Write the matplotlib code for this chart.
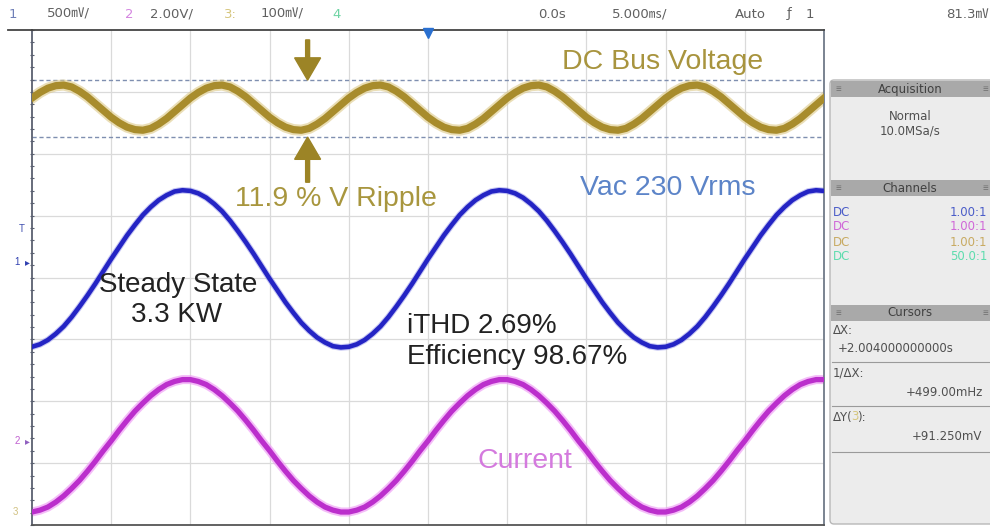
import numpy as np
import matplotlib.pyplot as plt
from matplotlib.patches import Rectangle, FancyBboxPatch

# time base 5 ms/div, 10 divisions, trigger in the middle, one sample every 0.5 ms
time_ms = np.arange(-25, 25.01, 0.5)

# traces, in screen divisions (0 = bottom edge, 8 = top edge)
dc_bus_div = [6.90, 6.99, 7.06, 7.10, 7.11, 7.08, 7.01, 6.92, 6.81, 6.70,
              6.59, 6.50, 6.43, 6.39, 6.38, 6.41, 6.48, 6.57, 6.68, 6.79,
              6.90, 6.99, 7.06, 7.10, 7.11, 7.08, 7.01, 6.92, 6.81, 6.70,
              6.59, 6.50, 6.43, 6.39, 6.38, 6.41, 6.48, 6.57, 6.68, 6.79,
              6.90, 6.99, 7.06, 7.10, 7.11, 7.08, 7.01, 6.92, 6.81, 6.70,
              6.59, 6.50, 6.43, 6.39, 6.38, 6.41, 6.48, 6.57, 6.68, 6.79,
              6.90, 6.99, 7.06, 7.10, 7.11, 7.08, 7.01, 6.92, 6.81, 6.70,
              6.59, 6.50, 6.43, 6.39, 6.38, 6.41, 6.48, 6.57, 6.68, 6.79,
              6.90, 6.99, 7.06, 7.10, 7.11, 7.08, 7.01, 6.92, 6.81, 6.70,
              6.59, 6.50, 6.43, 6.39, 6.38, 6.41, 6.48, 6.57, 6.68, 6.79,
              6.90]
vac_div = [2.88, 2.92, 2.99, 3.09, 3.21, 3.36, 3.53, 3.71, 3.90, 4.10,
           4.30, 4.49, 4.68, 4.85, 5.01, 5.14, 5.25, 5.33, 5.39, 5.41,
           5.40, 5.36, 5.29, 5.19, 5.07, 4.92, 4.75, 4.57, 4.38, 4.18,
           3.98, 3.79, 3.60, 3.43, 3.27, 3.14, 3.03, 2.95, 2.89, 2.87,
           2.88, 2.92, 2.99, 3.09, 3.21, 3.36, 3.53, 3.71, 3.90, 4.10,
           4.30, 4.49, 4.68, 4.85, 5.01, 5.14, 5.25, 5.33, 5.39, 5.41,
           5.40, 5.36, 5.29, 5.19, 5.07, 4.92, 4.75, 4.57, 4.38, 4.18,
           3.98, 3.79, 3.60, 3.43, 3.27, 3.14, 3.03, 2.95, 2.89, 2.87,
           2.88, 2.92, 2.99, 3.09, 3.21, 3.36, 3.53, 3.71, 3.90, 4.10,
           4.30, 4.49, 4.68, 4.85, 5.01, 5.14, 5.25, 5.33, 5.39, 5.41,
           5.40]
current_div = [0.21, 0.24, 0.29, 0.37, 0.47, 0.59, 0.72, 0.87, 1.03, 1.20,
               1.36, 1.53, 1.69, 1.84, 1.97, 2.09, 2.19, 2.27, 2.32, 2.35,
               2.35, 2.32, 2.27, 2.19, 2.09, 1.97, 1.84, 1.69, 1.53, 1.36,
               1.20, 1.03, 0.87, 0.72, 0.59, 0.47, 0.37, 0.29, 0.24, 0.21,
               0.21, 0.24, 0.29, 0.37, 0.47, 0.59, 0.72, 0.87, 1.03, 1.20,
               1.36, 1.53, 1.69, 1.84, 1.97, 2.09, 2.19, 2.27, 2.32, 2.35,
               2.35, 2.32, 2.27, 2.19, 2.09, 1.97, 1.84, 1.69, 1.53, 1.36,
               1.20, 1.03, 0.87, 0.72, 0.59, 0.47, 0.37, 0.29, 0.24, 0.21,
               0.21, 0.24, 0.29, 0.37, 0.47, 0.59, 0.72, 0.87, 1.03, 1.20,
               1.36, 1.53, 1.69, 1.84, 1.97, 2.09, 2.19, 2.27, 2.32, 2.35,
               2.35]

# cursor levels on channel 3 (divisions)
cursor_levels = [7.19, 6.27]

# header row: (x pixel, text, colour)
header_items = [(9, "1", "#7080b8"), (47, "500\u33b7/", "#606060"),
                (125, "2", "#d485e0"), (150, "2.00V/", "#606060"),
                (224, "3:", "#d6c67e"), (261, "100\u33b7/", "#606060"),
                (332, "4", "#6fd4a4"),
                (538, "0.0s", "#606060"), (612, "5.000\u33b3/", "#606060"),
                (735, "Auto", "#606060"), (787, "\u0192", "#606060"),
                (806, "1", "#606060"), (946, "81.3\u33b7", "#606060")]
channel_rows = [("DC", "1.00:1", "#4a5cc8"), ("DC", "1.00:1", "#d068d8"),
                ("DC", "1.00:1", "#c8aa62"), ("DC", "50.0:1", "#5edcae")]

GOLD = "#a88c2c"
BLUE = "#2424c4"
MAGENTA = "#bb2fcc"
SANS = ["Liberation Sans", "DejaVu Sans"]
NARROW = ["Liberation Sans Narrow", "DejaVu Sans", "Noto Sans CJK SC"]

fig = plt.figure(figsize=(9.9, 5.29), dpi=100)
fig.patch.set_facecolor("white")

# ---- scope screen ----
ax = fig.add_axes([32 / 990, 4 / 529, 792 / 990, 495 / 529])
ax.set_xlim(-25, 25)
ax.set_ylim(0, 8)
for gx in np.arange(-20, 25, 5):
    ax.axvline(gx, color="#dadada", lw=0.9, zorder=0)
for gy in range(1, 8):
    ax.axhline(gy, color="#dadada", lw=0.9, zorder=0)
ax.set_xticks([])
ax.set_yticks(np.arange(0, 8.01, 0.2), minor=True)
ax.set_yticks([])
ax.tick_params(axis="y", which="minor", length=3, width=0.8, direction="inout",
               color="#5a6070", left=True)
for side, col in [("left", "#5a6070"), ("bottom", "#555555"), ("right", "#707a88"),
                  ("top", "#444444")]:
    ax.spines[side].set_color(col)
    ax.spines[side].set_linewidth(1.3)

# cursor lines
for lvl in cursor_levels:
    ax.axhline(lvl, color="#7f8fb0", lw=1.0, ls=(0, (3, 2)), zorder=1)

# traces, each with a soft glow underneath
ax.plot(time_ms, dc_bus_div, color="#dcc886", lw=8, alpha=0.6, zorder=2)
ax.plot(time_ms, dc_bus_div, color=GOLD, lw=5.2, zorder=3)
ax.plot(time_ms, vac_div, color="#8f8fe8", lw=4.8, alpha=0.5, zorder=2)
ax.plot(time_ms, vac_div, color=BLUE, lw=3.3, zorder=3)
ax.plot(time_ms, current_div, color="#f0a0f6", lw=6.5, alpha=0.7, zorder=2)
ax.plot(time_ms, current_div, color=MAGENTA, lw=3.8, zorder=3)

# ripple arrows
arrow_x = -7.6
ax.arrow(arrow_x, 7.84, 0, cursor_levels[0] - 7.84, width=0.25, head_width=1.64,
         head_length=0.36, length_includes_head=True, color="#9c8426", zorder=4)
ax.arrow(arrow_x, 5.54, 0, cursor_levels[1] - 5.54, width=0.25, head_width=1.64,
         head_length=0.36, length_includes_head=True, color="#9c8426", zorder=4)

# annotations
ax.text(14.8, 7.49, "DC Bus Voltage", color="#a8943e", fontsize=20.5, family=SANS,
        ha="center", va="center", zorder=5)
ax.text(-5.8, 5.27, "11.9 % V Ripple", color="#a8963e", fontsize=20.5, family=SANS,
        ha="center", va="center", zorder=5)
ax.text(15.15, 5.44, "Vac 230 Vrms", color="#5c84c8", fontsize=20.5, family=SANS,
        ha="center", va="center", zorder=5)
ax.text(-15.8, 3.88, "Steady State", color="#222222", fontsize=20, family=SANS,
        ha="center", va="center", zorder=5)
ax.text(-15.85, 3.39, "3.3 KW", color="#222222", fontsize=20, family=SANS,
        ha="center", va="center", zorder=5)
ax.text(-1.33, 3.21, "iTHD 2.69%", color="#222222", fontsize=20, family=SANS,
        ha="left", va="center", zorder=5)
ax.text(-1.33, 2.71, "Efficiency 98.67%", color="#222222", fontsize=20, family=SANS,
        ha="left", va="center", zorder=5)
ax.text(6.1, 1.03, "Current", color="#d47ade", fontsize=20.5, family=SANS,
        ha="center", va="center", zorder=5)

# ---- overlay in pixel coordinates: header, markers, side panel ----
ov = fig.add_axes([0, 0, 1, 1])
ov.set_xlim(0, 990)
ov.set_ylim(529, 0)
ov.axis("off")
ov.patch.set_alpha(0)

ov.plot([8, 32], [30, 30], color="#444444", lw=1.3)

for hx, txt, col in header_items:
    ov.text(hx, 14, txt, color=col, fontsize=9.5, family=NARROW, va="center", ha="left")

# trigger position marker
ov.plot([428], [33], marker="v", color="#2a70d0", ms=7, mec="#2a70d0")

# channel markers on the left edge
ov.text(22, 229, "T", color="#4050b0", fontsize=7, family=SANS, ha="center", va="center")
ov.text(17, 262, "1", color="#3040b0", fontsize=7, family=SANS, ha="center", va="center")
ov.text(27, 262, "\u25b8", color="#3040b0", fontsize=7, family=SANS, ha="center", va="center")
ov.text(17, 441, "2", color="#c060d0", fontsize=7, family=SANS, ha="center", va="center")
ov.text(27, 441, "\u25b8", color="#9060c0", fontsize=7, family=SANS, ha="center", va="center")
ov.text(15, 512, "3", color="#d0c080", fontsize=7, family=SANS, ha="center", va="center")

# side panel
ov.add_patch(FancyBboxPatch((830, 80), 170, 444, boxstyle="round,pad=0,rounding_size=4",
                            facecolor="#ececec", edgecolor="#b8b8b8", lw=1.0))
for by, title in [(81, "Acquisition"), (180, "Channels"), (305, "Cursors")]:
    ov.add_patch(Rectangle((831, by), 160, 16, facecolor="#a9a9a9", edgecolor="none"))
    ov.text(910, by + 8, title, color="#404040", fontsize=8.5, family=NARROW,
            ha="center", va="center")
    ov.text(838, by + 8, "\u2261", color="#707070", fontsize=7, family=SANS,
            ha="center", va="center")
    ov.text(985, by + 8, "\u2261", color="#707070", fontsize=7, family=SANS,
            ha="center", va="center")

ov.text(910, 116, "Normal", color="#505050", fontsize=8.5, family=NARROW, ha="center", va="center")
ov.text(910, 131, "10.0MSa/s", color="#505050", fontsize=8.5, family=NARROW, ha="center", va="center")

for i, (cpl, ratio, col) in enumerate(channel_rows):
    yy = 212 + 15 * i
    ov.text(833, yy, cpl, color=col, fontsize=8.5, family=NARROW, ha="left", va="center")
    ov.text(950, yy, ratio, color=col, fontsize=8.5, family=NARROW, ha="left", va="center")

gray = "#505050"
ov.text(833, 331, "\u0394X:", color=gray, fontsize=8.5, family=NARROW, ha="left", va="center")
ov.text(838, 348, "+2.004000000000s", color=gray, fontsize=8.5, family=NARROW,
        ha="left", va="center")
ov.plot([832, 990], [362, 362], color="#9a9a9a", lw=0.8)
ov.text(833, 373, "1/\u0394X:", color=gray, fontsize=8.5, family=NARROW, ha="left", va="center")
ov.text(906, 392, "+499.00mHz", color=gray, fontsize=8.5, family=NARROW, ha="left", va="center")
ov.plot([832, 990], [406, 406], color="#9a9a9a", lw=0.8)
ov.text(833, 417, "\u0394Y(", color=gray, fontsize=8.5, family=NARROW, ha="left", va="center")
ov.text(851, 417, "3", color="#d6c67e", fontsize=8.5, family=NARROW, ha="left", va="center")
ov.text(857, 417, "):", color=gray, fontsize=8.5, family=NARROW, ha="left", va="center")
ov.text(912, 436, "+91.250mV", color=gray, fontsize=8.5, family=NARROW, ha="left", va="center")
ov.plot([832, 990], [452, 452], color="#9a9a9a", lw=0.8)

fig.savefig("out.png", dpi=100)
